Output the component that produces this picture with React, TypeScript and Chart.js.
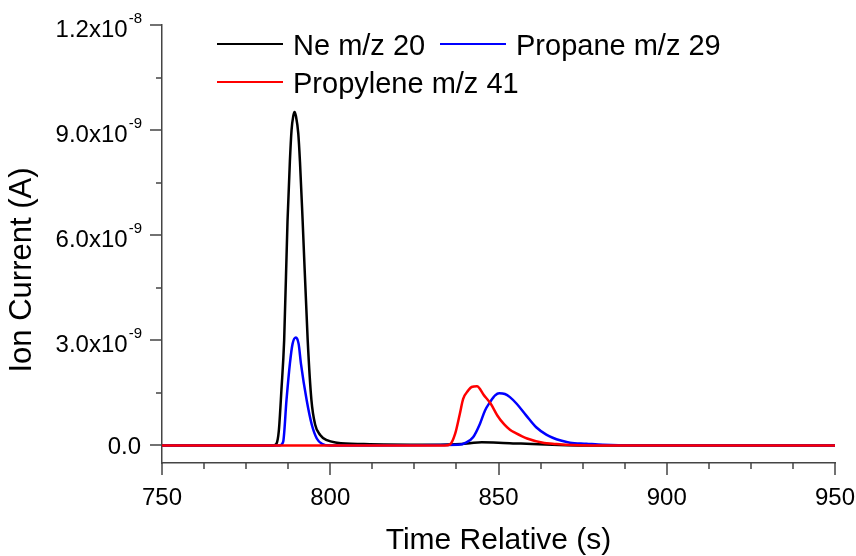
import React, { useEffect, useRef } from "react";
import { Chart, registerables } from "chart.js";

Chart.register(...registerables);

// Ion current values are in units of 1e-9 A (nA)
const neTime = [750, 783, 784, 784.7, 785.5, 786.3, 787.3, 788.0, 788.5, 789.0, 789.4, 789.8, 790.5, 791.0, 791.8, 793.3, 794.4, 795.5, 797, 799, 802, 810, 830, 839, 842, 845, 850, 855, 860, 866, 875, 950];
const neCurrent = [0, 0, 0.05, 0.4, 1.6, 3.0, 6.4, 8.1, 9.0, 9.4, 9.52, 9.4, 8.9, 8.1, 6.4, 3.0, 1.3, 0.6, 0.3, 0.15, 0.08, 0.04, 0.02, 0.04, 0.07, 0.09, 0.08, 0.06, 0.04, 0.02, 0, 0];

const propaneTime = [750, 785, 786, 787.0, 788.0, 788.8, 789.8, 790.6, 791.3, 793.0, 794.5, 796, 797.5, 800, 838, 840.5, 842.5, 844.5, 846, 847.5, 849, 850.2, 851.9, 853.4, 855.4, 858.2, 861.2, 864.2, 866.1, 868.5, 871.2, 876.1, 881, 890, 950];
const propaneCurrent = [0, 0, 0.1, 1.3, 2.33, 2.9, 3.08, 2.9, 2.33, 1.29, 0.6, 0.2, 0.05, 0, 0.02, 0.09, 0.24, 0.62, 1.0, 1.24, 1.43, 1.49, 1.47, 1.38, 1.19, 0.86, 0.52, 0.31, 0.22, 0.14, 0.08, 0.05, 0.02, 0, 0];

const propyleneTime = [750, 834, 835.6, 837.1, 838.5, 839.5, 841, 842, 843.6, 845.7, 847.7, 849.7, 851.7, 853.4, 855, 858.5, 863.6, 866.1, 870, 878, 950];
const propyleneCurrent = [0, 0, 0.03, 0.33, 0.9, 1.33, 1.57, 1.67, 1.69, 1.43, 1.19, 0.85, 0.6, 0.45, 0.36, 0.2, 0.07, 0.05, 0.02, 0, 0];

const seriesLabels = ["Ne m/z 20", "Propane m/z 29", "Propylene m/z 41"];
const seriesColors = ["#000000", "#0000ff", "#ff0000"];

const xMajorTicks = [750, 800, 850, 900, 950];
const xMinorTicks = [762.5, 775, 787.5, 812.5, 825, 837.5, 862.5, 875, 887.5, 912.5, 925, 937.5];
const yMajorTicks = [0, 3, 6, 9, 12];
const yMinorTicks = [1.5, 4.5, 7.5, 10.5];

const xTitle = "Time Relative (s)";
const yTitle = "Ion Current (A)";

const FONT = '"Liberation Sans", Arial, Helvetica, sans-serif';

function toPoints(t: number[], v: number[]) {
  return t.map((x, i) => ({ x, y: v[i] }));
}

function sciParts(vNano: number): [string, string] {
  if (vNano === 0) return ["0.0", ""];
  const val = vNano * 1e-9;
  const exp = Math.floor(Math.log10(val) + 1e-9);
  const mant = val / Math.pow(10, exp);
  return [mant.toFixed(1) + "x10", String(exp)];
}

const decorPlugin = {
  id: "decor",
  afterDraw(chart: any) {
    const ctx = chart.ctx as CanvasRenderingContext2D;
    const xs = chart.scales.x;
    const ys = chart.scales.y;
    const area = chart.chartArea;
    ctx.save();
    // ticks
    ctx.strokeStyle = "#444";
    ctx.lineWidth = 1.5;
    ctx.beginPath();
    xMajorTicks.forEach((t) => {
      const px = Math.round(xs.getPixelForValue(t));
      ctx.moveTo(px, area.bottom);
      ctx.lineTo(px, area.bottom + 12);
    });
    xMinorTicks.forEach((t) => {
      const px = Math.round(xs.getPixelForValue(t));
      ctx.moveTo(px, area.bottom);
      ctx.lineTo(px, area.bottom + 6);
    });
    yMajorTicks.forEach((v) => {
      const py = Math.round(ys.getPixelForValue(v));
      ctx.moveTo(area.left, py);
      ctx.lineTo(area.left - 12, py);
    });
    yMinorTicks.forEach((v) => {
      const py = Math.round(ys.getPixelForValue(v));
      ctx.moveTo(area.left, py);
      ctx.lineTo(area.left - 6, py);
    });
    ctx.stroke();

    ctx.fillStyle = "#000";
    // x tick labels
    ctx.font = `24px ${FONT}`;
    ctx.textAlign = "center";
    ctx.textBaseline = "alphabetic";
    xMajorTicks.forEach((t) => {
      const px = xs.getPixelForValue(t);
      ctx.fillText(String(t), px, area.bottom + 42);
    });
    // y tick labels
    const rightEdge = area.left - 20;
    yMajorTicks.forEach((v) => {
      const py = ys.getPixelForValue(v);
      const [main, exp] = sciParts(v);
      ctx.textAlign = "right";
      if (!exp) {
        ctx.font = `24px ${FONT}`;
        ctx.fillText(main, rightEdge - 1, py + 8.5);
      } else {
        ctx.font = `15px ${FONT}`;
        const ew = ctx.measureText(exp).width;
        ctx.fillText(exp, rightEdge, py - 2);
        ctx.font = `24px ${FONT}`;
        ctx.fillText(main, rightEdge - ew - 1, py + 11.5);
      }
    });
    // axis titles
    ctx.font = `30px ${FONT}`;
    ctx.textAlign = "center";
    ctx.fillText(xTitle, (area.left + area.right) / 2, 549);
    ctx.save();
    ctx.translate(31, 270);
    ctx.rotate(-Math.PI / 2);
    ctx.font = `31px ${FONT}`;
    ctx.fillText(yTitle, 0, 0);
    ctx.restore();

    // legend
    const legendItems = [
      { x: 217, y: 44 },
      { x: 440, y: 44 },
      { x: 217, y: 82 },
    ];
    ctx.font = `29px ${FONT}`;
    ctx.textAlign = "left";
    legendItems.forEach((p, i) => {
      ctx.strokeStyle = seriesColors[i];
      ctx.lineWidth = 2;
      ctx.beginPath();
      ctx.moveTo(p.x, p.y);
      ctx.lineTo(p.x + 66, p.y);
      ctx.stroke();
      ctx.fillStyle = "#000";
      ctx.fillText(seriesLabels[i], p.x + 76, p.y + 10.5);
    });
    ctx.restore();
  },
};

export default function App() {
  const ref = useRef<HTMLCanvasElement | null>(null);
  useEffect(() => {
    if (!ref.current) return;
    const common = { borderWidth: 2.5, pointRadius: 0, cubicInterpolationMode: "monotone" as const };
    const chart = new Chart(ref.current, {
      type: "line",
      data: {
        datasets: [
          { label: seriesLabels[0], data: toPoints(neTime, neCurrent), borderColor: seriesColors[0], order: 2, ...common },
          { label: seriesLabels[1], data: toPoints(propaneTime, propaneCurrent), borderColor: seriesColors[1], order: 1, ...common },
          { label: seriesLabels[2], data: toPoints(propyleneTime, propyleneCurrent), borderColor: seriesColors[2], order: 0, ...common },
        ],
      },
      options: {
        animation: false,
        responsive: false,
        maintainAspectRatio: false,
        devicePixelRatio: 1,
        layout: { padding: { top: 25, right: 21, left: 0, bottom: 0 } },
        plugins: { legend: { display: false }, tooltip: { enabled: false } },
        scales: {
          x: {
            type: "linear",
            min: 750,
            max: 950,
            ticks: { display: false },
            grid: { display: false },
            border: { display: true, color: "#444", width: 1.5 },
            afterFit: (s: any) => { s.height = 93; },
          },
          y: {
            type: "linear",
            min: -0.5,
            max: 12,
            ticks: { display: false },
            grid: { display: false },
            border: { display: true, color: "#444", width: 1.5 },
            afterFit: (s: any) => { s.width = 162; },
          },
        },
      },
      plugins: [decorPlugin],
    } as any);
    return () => chart.destroy();
  }, []);
  return (
    <div style={{ position: "absolute", left: 0, top: 0, width: 856, height: 556, background: "#fff" }}>
      <canvas ref={ref} width={856} height={556} style={{ display: "block" }} />
    </div>
  );
}
